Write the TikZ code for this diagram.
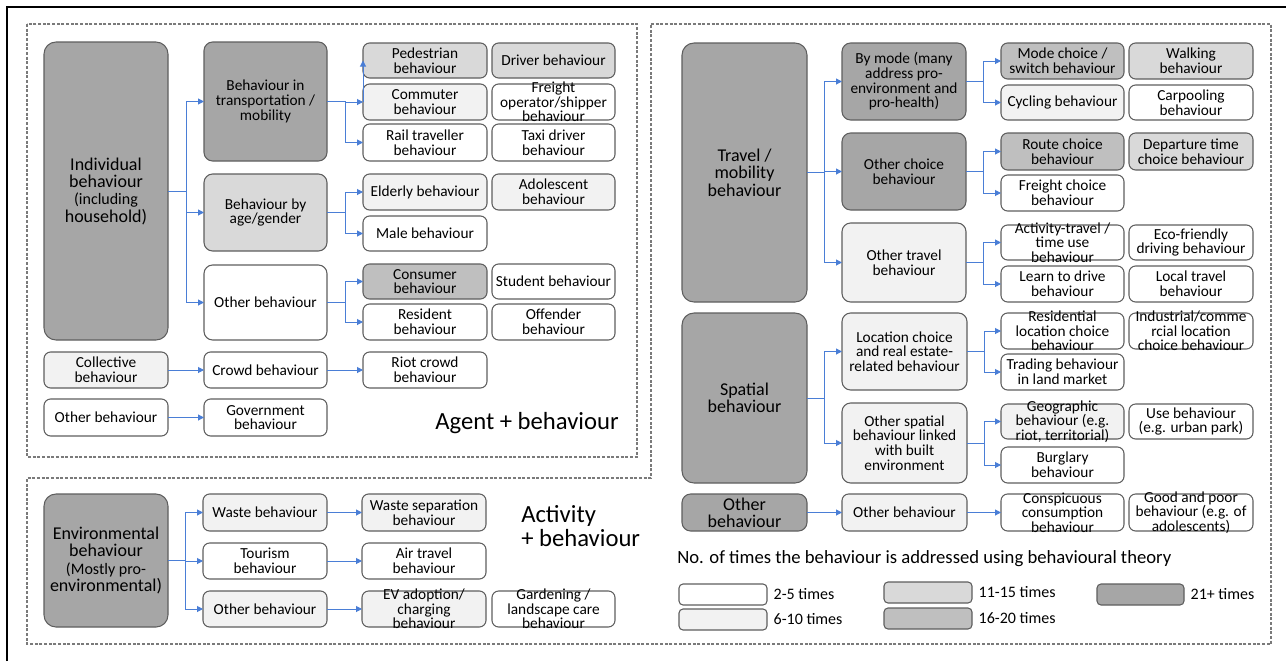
\documentclass[tikz,border=0pt]{standalone}
\usepackage{fontspec}
\setmainfont{Carlito}
\usetikzlibrary{arrows.meta}

\definecolor{lvA}{HTML}{FFFFFF}
\definecolor{lvB}{HTML}{F2F2F2}
\definecolor{lvC}{HTML}{D9D9D9}
\definecolor{lvD}{HTML}{BFBFBF}
\definecolor{lvE}{HTML}{A6A6A6}
\definecolor{boxedge}{HTML}{5E5E5E}
\definecolor{linkblue}{HTML}{4A7ED6}
\definecolor{panelgray}{HTML}{7A7A7A}

\tikzset{
  boxshape/.style={draw=boxedge, line width=0.8pt, rounded corners=5pt, inner sep=0pt, outer sep=0pt},
  lbl/.style={align=center, inner sep=0pt, font=\fontsize{11.5}{11}\selectfont},
  bigtext/.style={font=\fontsize{13.5}{13}\selectfont},
  bigbox/.style={bigtext, rounded corners=9pt},
  midbox/.style={rounded corners=6.5pt},
  conn/.style={draw=linkblue, line width=0.75pt, -{Triangle[length=4.5pt,width=4.5pt]}},
  panel/.style={draw=panelgray, line width=0.8pt, dash pattern=on 2.2pt off 1.3pt},
  keybox/.style={draw=boxedge, line width=0.8pt, rounded corners=3pt, inner sep=0pt, outer sep=0pt},
  keytxt/.style={anchor=west, inner sep=0pt, font=\fontsize{12}{12}\selectfont},
}

% box given by its corners (pixel grid), fill and label
\newcommand{\bx}[8][]{%
  \node[boxshape,#1,fill=#7,minimum width={(#5-#3)*0.75pt},minimum height={(#6-#4)*0.75pt}] (#2) at ({(#3+#5)/2},{(#4+#6)/2}) {};
  \node[lbl,#1] at (#2.center) {#8};}

% legend swatch with its caption
\newcommand{\keyitem}[7]{%
  \node[keybox,fill=#6,minimum width={(#4-#2)*0.75pt},minimum height={(#5-#3)*0.75pt}] (#1) at ({(#2+#4)/2},{(#3+#5)/2}) {};
  \node[keytxt] (#1t) at ([xshift=4.8pt]#1.east) {#7};}

\begin{document}
\begin{tikzpicture}[x=0.75pt,y=-0.75pt]
\useasboundingbox (0,0) rectangle (1286,661);

% outer frame and panels
\draw[line width=1.5pt] (7,661) -- (7,7) -- (1286,7);
\draw[panel] (27,24) rectangle (637,457);
\draw[panel] (651,24) -- (1271,24) -- (1271,644) -- (27,644) -- (27,478) -- (651,478) -- cycle;

% ---------------- agent + behaviour ----------------
\bx[bigbox]{ind}{44}{42}{168}{340}{lvE}{Individual\\behaviour\\\fontsize{12}{11}\selectfont(including\\household)}
\bx[midbox]{trans}{204}{42}{327}{161}{lvE}{Behaviour in\\transportation /\\mobility}
\bx[midbox]{agegen}{204}{174}{327}{251}{lvC}{Behaviour by\\age/gender}
\bx[midbox]{oth1}{204}{265}{327}{340}{lvA}{Other behaviour}
\bx{coll}{44}{352}{168}{388}{lvB}{Collective\\behaviour}
\bx{crowd}{204}{352}{327}{388}{lvA}{Crowd behaviour}
\bx{oth2}{44}{399}{168}{436}{lvA}{Other behaviour}
\bx{gov}{204}{399}{327}{436}{lvA}{Government\\behaviour}

\bx{ped}{363}{43}{487}{78}{lvC}{Pedestrian\\behaviour}
\bx{driver}{492}{43}{615}{78}{lvC}{Driver behaviour}
\bx{comm}{363}{84}{487}{120}{lvB}{Commuter\\behaviour}
\bx{freight}{492}{84}{615}{120}{lvA}{Freight\\operator/shipper\\behaviour}
\bx{rail}{363}{124}{487}{161}{lvA}{Rail traveller\\behaviour}
\bx{taxi}{492}{124}{615}{161}{lvA}{Taxi driver\\behaviour}
\bx{elderly}{363}{174}{487}{210}{lvB}{Elderly behaviour}
\bx{adol}{492}{174}{615}{210}{lvB}{Adolescent\\behaviour}
\bx{male}{363}{216}{487}{251}{lvA}{Male behaviour}
\bx{consumer}{363}{264}{487}{299}{lvD}{Consumer\\behaviour}
\bx{student}{492}{264}{615}{299}{lvA}{Student behaviour}
\bx{resident}{363}{304}{487}{340}{lvA}{Resident\\behaviour}
\bx{offender}{492}{304}{615}{340}{lvA}{Offender\\behaviour}
\bx{riot}{363}{352}{487}{388}{lvA}{Riot crowd\\behaviour}

\node[font=\fontsize{18.5}{20}\selectfont, inner sep=0pt] (agent) at (527,423) {Agent + behaviour};

\draw[conn] (ind.east) -- ++(18,0) |- (trans.west);
\draw[conn] (ind.east) -- ++(18,0) |- (agegen.west);
\draw[conn] (ind.east) -- ++(18,0) |- (oth1.west);
\draw[conn] (trans.east) -- ++(18,0) |- (comm.west);
\draw[conn] (trans.east) -- ++(18,0) |- (rail.west);
\draw[conn] (comm.west) -- (comm.west |- ped.west);
\draw[conn] (agegen.east) -- ++(18,0) |- (elderly.west);
\draw[conn] (agegen.east) -- ++(18,0) |- (male.west);
\draw[conn] (oth1.east) -- ++(18,0) |- (consumer.west);
\draw[conn] (oth1.east) -- ++(18,0) |- (resident.west);
\draw[conn] (coll) -- (crowd);
\draw[conn] (crowd) -- (riot);
\draw[conn] (oth2) -- (gov);

% ---------------- activity + behaviour ----------------
\bx[bigbox]{env}{44}{494}{168}{627}{lvE}{\fontsize{13.5}{11.5}\selectfont Environmental\\behaviour\\\fontsize{12}{11.5}\selectfont(Mostly pro-\\environmental)}
\bx{waste}{203}{494}{327}{531}{lvB}{Waste behaviour}
\bx{wastesep}{362}{494}{486}{531}{lvB}{Waste separation\\behaviour}
\bx{tourism}{203}{543}{327}{579}{lvA}{Tourism\\behaviour}
\bx{air}{362}{543}{486}{579}{lvA}{Air travel\\behaviour}
\bx{oth3}{203}{591}{327}{627}{lvB}{Other behaviour}
\bx{ev}{362}{591}{486}{627}{lvB}{EV adoption/\\charging\\behaviour}
\bx{garden}{492}{591}{615}{627}{lvA}{Gardening /\\landscape care\\behaviour}

\node[font=\fontsize{18.5}{18.5}\selectfont, align=left, anchor=west, inner sep=0pt] (act) at (521,526) {Activity\\+ behaviour};

\draw[conn] (env.east) -- ++(17,0) |- (waste.west);
\draw[conn] (env.east) -- ++(17,0) |- (tourism.west);
\draw[conn] (env.east) -- ++(17,0) |- (oth3.west);
\draw[conn] (waste) -- (wastesep);
\draw[conn] (tourism) -- (air);
\draw[conn] (oth3) -- (ev);

% ---------------- travel and spatial behaviour ----------------
\bx[bigbox]{travel}{682}{43}{807}{302}{lvE}{Travel /\\mobility\\behaviour}
\bx[midbox]{bymode}{842}{43}{966}{120}{lvE}{By mode (many\\address pro-\\environment and\\pro-health)}
\bx[midbox]{othchoice}{842}{133}{966}{210}{lvE}{Other choice\\behaviour}
\bx[midbox]{othtravel}{842}{223}{966}{302}{lvB}{Other travel\\behaviour}
\bx{modechoice}{1001}{43}{1124}{79}{lvD}{Mode choice /\\switch behaviour}
\bx{walking}{1129}{43}{1253}{79}{lvC}{Walking\\behaviour}
\bx{cycling}{1001}{85}{1124}{120}{lvB}{Cycling behaviour}
\bx{carpool}{1129}{85}{1253}{120}{lvA}{Carpooling\\behaviour}
\bx{route}{1001}{133}{1124}{170}{lvD}{Route choice\\behaviour}
\bx{departure}{1129}{133}{1253}{170}{lvC}{Departure time\\choice behaviour}
\bx{freightch}{1001}{175}{1124}{211}{lvA}{Freight choice\\behaviour}
\bx{activity}{1001}{225}{1124}{260}{lvA}{Activity-travel /\\time use\\behaviour}
\bx{eco}{1129}{225}{1253}{260}{lvA}{Eco-friendly\\driving behaviour}
\bx{learn}{1001}{266}{1124}{302}{lvA}{Learn to drive\\behaviour}
\bx{local}{1129}{266}{1253}{302}{lvA}{Local travel\\behaviour}

\bx[bigbox]{spatial}{682}{313}{807}{483}{lvE}{Spatial\\behaviour}
\bx[midbox]{location}{842}{313}{967}{390}{lvB}{Location choice\\and real estate-\\related behaviour}
\bx[midbox]{othspatial}{842}{403}{967}{483}{lvB}{Other spatial\\behaviour linked\\with built\\environment}
\bx{residential}{1001}{313}{1124}{349}{lvA}{Residential\\location choice\\behaviour}
\bx{industrial}{1129}{313}{1253}{349}{lvA}{Industrial/comme\\rcial location\\choice behaviour}
\bx{trading}{1001}{354}{1124}{390}{lvA}{Trading behaviour\\in land market}
\bx{geographic}{1001}{404}{1124}{439}{lvB}{Geographic\\behaviour (e.g.\\riot, territorial)}
\bx{use}{1129}{404}{1253}{439}{lvA}{Use behaviour\\(e.g. urban park)}
\bx{burglary}{1001}{447}{1124}{483}{lvA}{Burglary\\behaviour}

\bx[bigtext,midbox]{othdark}{682}{494}{807}{531}{lvE}{Other\\behaviour}
\bx{othmid}{842}{494}{967}{531}{lvB}{Other behaviour}
\bx{conspicuous}{1001}{494}{1124}{531}{lvA}{Conspicuous\\consumption\\behaviour}
\bx{goodpoor}{1129}{494}{1253}{531}{lvA}{Good and poor\\behaviour (e.g. of\\adolescents)}

\draw[conn] (travel.east) -- ++(17,0) |- (bymode.west);
\draw[conn] (travel.east) -- ++(17,0) |- (othchoice.west);
\draw[conn] (travel.east) -- ++(17,0) |- (othtravel.west);
\draw[conn] (bymode.east) -- ++(17,0) |- (modechoice.west);
\draw[conn] (bymode.east) -- ++(17,0) |- (cycling.west);
\draw[conn] (othchoice.east) -- ++(17,0) |- (route.west);
\draw[conn] (othchoice.east) -- ++(17,0) |- (freightch.west);
\draw[conn] (othtravel.east) -- ++(17,0) |- (activity.west);
\draw[conn] (othtravel.east) -- ++(17,0) |- (learn.west);
\draw[conn] (spatial.east) -- ++(17,0) |- (location.west);
\draw[conn] (spatial.east) -- ++(17,0) |- (othspatial.west);
\draw[conn] (location.east) -- ++(17,0) |- (residential.west);
\draw[conn] (location.east) -- ++(17,0) |- (trading.west);
\draw[conn] (othspatial.east) -- ++(17,0) |- (geographic.west);
\draw[conn] (othspatial.east) -- ++(17,0) |- (burglary.west);
\draw[conn] (othdark) -- (othmid);
\draw[conn] (othmid) -- (conspicuous);

% ---------------- legend ----------------
\node[anchor=west, inner sep=0pt, font=\fontsize{14}{14}\selectfont] (legtitle) at (677,559) {No. of times the behaviour is addressed using behavioural theory};
\keyitem{ka}{679}{584}{767}{605}{lvA}{2-5 times}
\keyitem{kb}{679}{609}{767}{630}{lvB}{6-10 times}
\keyitem{kc}{884}{582}{972}{603}{lvC}{11-15 times}
\keyitem{kd}{884}{608}{972}{629}{lvD}{16-20 times}
\keyitem{ke}{1097}{584}{1184}{605}{lvE}{21+ times}
\end{tikzpicture}
\end{document}
